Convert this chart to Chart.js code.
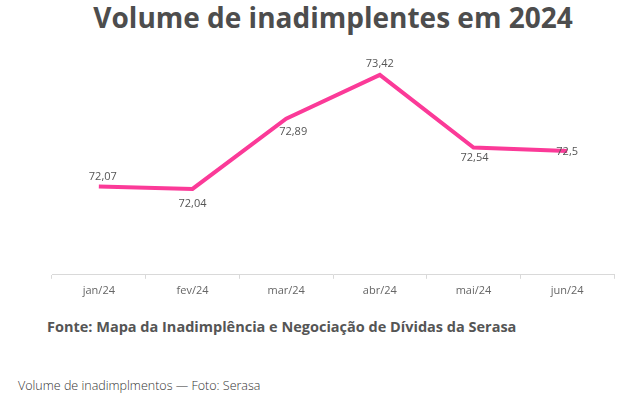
<!DOCTYPE html>
<html>
<head>
<meta charset="utf-8">
<script src="https://cdn.jsdelivr.net/npm/chart.js@4"></script>
<style>
  body { margin: 0; background: #fff; width: 637px; height: 405px; position: relative; overflow: hidden; font-family: "Open Sans", sans-serif; }
  #title { position: absolute; left: 0; width: 666px; top: -2px; text-align: center; font-size: 28px; font-weight: 700; color: #4d4d4d; }
  #box { position: absolute; left: 0; top: 0; width: 637px; height: 304px; }
  #fonte { position: absolute; left: 47px; top: 317px; font-size: 14.5px; font-weight: 700; color: #555; }
  #foto { position: absolute; left: 18px; top: 377px; font-size: 12.5px; font-weight: 300; color: #333; }
</style>
</head>
<body>
<div id="title">Volume de inadimplentes em 2024</div>
<div id="box"><canvas id="myChart"></canvas></div>
<div id="fonte">Fonte: Mapa da Inadimplência e Negociação de Dívidas da Serasa</div>
<div id="foto">Volume de inadimplmentos — Foto: Serasa</div>
<script>
const months = ['jan/24', 'fev/24', 'mar/24', 'abr/24', 'mai/24', 'jun/24'];
const volume = [72.07, 72.04, 72.89, 73.42, 72.54, 72.5];
const valueLabels = ['72,07', '72,04', '72,89', '73,42', '72,54', '72,5'];
// where each label sits relative to its point: [dx, dy]
const labelOffsets = [[4, -10], [0, 15], [7, 13], [0, -11], [1, 10], [0, 1]];

const pointLabels = {
  id: 'pointLabels',
  afterDatasetsDraw(chart) {
    const c = chart.ctx;
    const pts = chart.getDatasetMeta(0).data;
    c.save();
    c.font = '11px "Open Sans", sans-serif';
    c.fillStyle = '#555';
    c.textAlign = 'center';
    c.textBaseline = 'middle';
    pts.forEach((p, i) => {
      c.fillText(valueLabels[i], p.x + labelOffsets[i][0], p.y + labelOffsets[i][1]);
    });
    c.restore();
  }
};

const ctx = document.getElementById('myChart').getContext('2d');
const myChart = new Chart(ctx, {
    type: 'line',
    data: {
        labels: months,
        datasets: [{
            label: 'Volume',
            data: volume,
            borderColor: '#fb3a98',
            borderWidth: 4,
            pointRadius: 0,
            tension: 0,
            fill: false
        }]
    },
    options: {
        responsive: true,
        maintainAspectRatio: false,
        animation: false,
        layout: {
            padding: { left: 52, right: 23, top: 27, bottom: 2 }
        },
        plugins: {
            legend: { display: false },
            tooltip: { enabled: false }
        },
        scales: {
            x: {
                offset: true,
                grid: {
                    offset: true,
                    drawOnChartArea: false,
                    tickLength: 4,
                    color: '#d9d9d9'
                },
                border: { color: '#d9d9d9' },
                ticks: {
                    color: '#666',
                    padding: 5,
                    font: { family: '"Open Sans", sans-serif', size: 11 }
                }
            },
            y: {
                display: false,
                min: 71,
                max: 74
            }
        }
    },
    plugins: [pointLabels]
});
</script>
</body>
</html>
